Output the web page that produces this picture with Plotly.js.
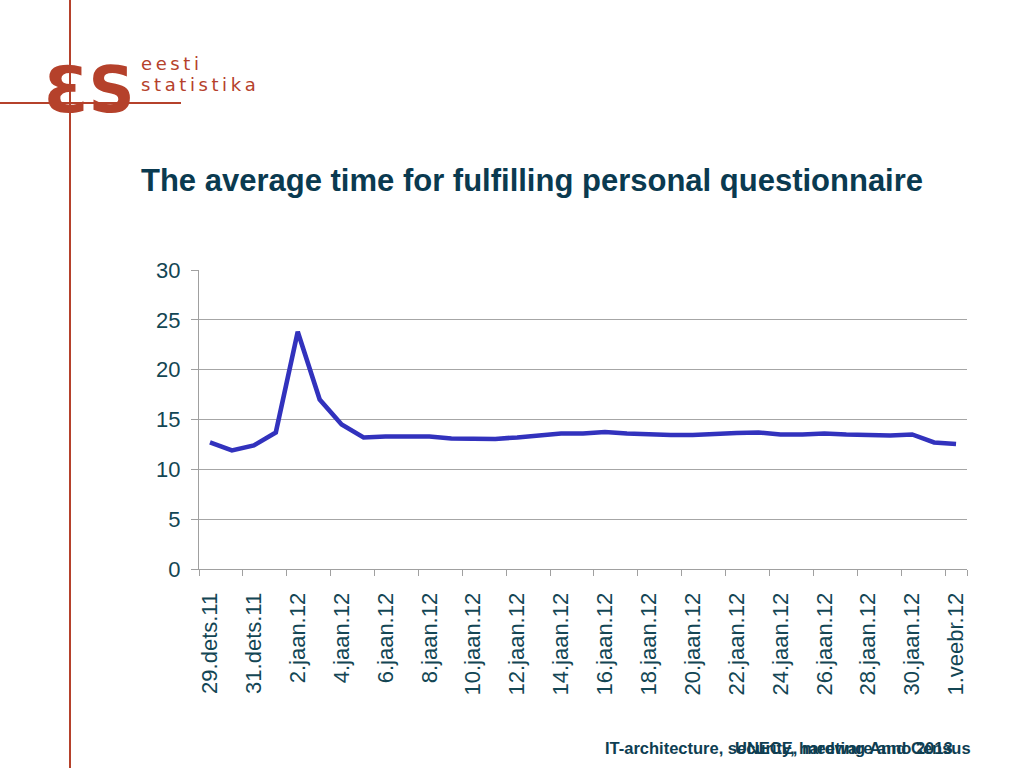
<!DOCTYPE html>
<html>
<head>
<meta charset="utf-8">
<script src="https://cdn.plot.ly/plotly-3.0.1.min.js"></script>
<style>html,body{margin:0;padding:0;background:#fff;}#chart{width:1024px;height:768px;}</style>
</head>
<body>
<div id="chart"></div>
<script>
// Data
const dateLabels = ["29.dets.11","30.dets.11","31.dets.11","1.jaan.12","2.jaan.12","3.jaan.12","4.jaan.12","5.jaan.12","6.jaan.12","7.jaan.12","8.jaan.12","9.jaan.12","10.jaan.12","11.jaan.12","12.jaan.12","13.jaan.12","14.jaan.12","15.jaan.12","16.jaan.12","17.jaan.12","18.jaan.12","19.jaan.12","20.jaan.12","21.jaan.12","22.jaan.12","23.jaan.12","24.jaan.12","25.jaan.12","26.jaan.12","27.jaan.12","28.jaan.12","29.jaan.12","30.jaan.12","31.jaan.12","1.veebr.12"];
const avgMinutes = [12.7,11.9,12.4,13.7,23.8,17.0,14.5,13.2,13.3,13.35,13.3,13.1,13.05,13.05,13.2,13.35,13.6,13.6,13.75,13.6,13.5,13.45,13.45,13.6,13.65,13.7,13.5,13.5,13.6,13.5,13.45,13.4,13.5,12.7,12.55];
const yTicks = [0,5,10,15,20,25,30];
const titleText = "The average time for fulfilling personal questionnaire";
const footerA = "IT-architecture, security, hardware and Census";
const footerB = "UNECE, meeting Anno 2013";
const logoMark = "ƐS";
const logoLine1 = "eesti";
const logoLine2 = "statistika";

const idx = dateLabels.map((_, i) => i);
const labelIdx = idx.filter(i => i % 2 === 0);
const boundaryIdx = idx.filter(i => i % 2 === 0).map(i => i - 0.5).concat([dateLabels.length - 0.5]);
const spaced = s => s.split("").join("\u2009");

const W = 1024, H = 768;
const L = 199, R = 967, T = 270, B = 569;
const red = "#b5412b";
const teal = "#0e3e52";
const px = x => (x - L) / (R - L);
const py = y => (B - y) / (B - T);

const trace = {
  x: idx, y: avgMinutes, type: "scatter", mode: "lines",
  line: {color: "#3232bd", width: 4.6},
  hoverinfo: "skip"
};
const tickTrace = {
  x: [boundaryIdx[0]], y: [null], xaxis: "x2", yaxis: "y", type: "scatter", mode: "none", showlegend: false, hoverinfo: "skip"
};

const layout = {
  width: W, height: H,
  margin: {l: L, r: W - R, t: T, b: H - B, pad: 0},
  paper_bgcolor: "#fff", plot_bgcolor: "#fff",
  showlegend: false,
  font: {family: "Liberation Sans, Arial, sans-serif", color: teal},
  title: {
    text: "<b>" + titleText + "</b>",
    font: {size: 31, color: "#0a3a50", family: "Liberation Sans, Arial, sans-serif"},
    xref: "container", yref: "container",
    x: 141 / W, xanchor: "left",
    y: 1 - 180 / H, yanchor: "middle"
  },
  xaxis: {
    range: [-0.5, dateLabels.length - 0.5],
    tickmode: "array",
    tickvals: labelIdx,
    ticktext: labelIdx.map(i => dateLabels[i]),
    tickangle: -90,
    ticks: "", showgrid: false, zeroline: false,
    showline: true, linecolor: "#a0a0a0", linewidth: 1,
    tickfont: {size: 22, color: "#134654", family: "Liberation Sans, Arial, sans-serif"},
    ticklabelstandoff: 14,
    fixedrange: true
  },
  xaxis2: {
    overlaying: "x", anchor: "y", side: "bottom",
    range: [-0.5, dateLabels.length - 0.5],
    tickmode: "array", tickvals: boundaryIdx,
    ticks: "outside", ticklen: 6, tickcolor: "#a0a0a0", tickwidth: 1,
    showticklabels: false, showgrid: false, zeroline: false, showline: false,
    fixedrange: true
  },
  yaxis: {
    range: [0, 30], tickmode: "array", tickvals: yTicks,
    ticks: "outside", ticklen: 7, tickcolor: "#a0a0a0",
    showgrid: true, gridcolor: "#a6a6a6", gridwidth: 1,
    zeroline: false, showline: true, linecolor: "#a0a0a0", linewidth: 1,
    tickfont: {size: 22, color: "#134654", family: "Liberation Sans, Arial, sans-serif"},
    ticklabelstandoff: 6,
    fixedrange: true
  },
  shapes: [
    {type: "line", xref: "paper", yref: "paper", x0: px(70), x1: px(70), y0: py(0), y1: py(768), line: {color: red, width: 2}},
    {type: "line", xref: "paper", yref: "paper", x0: px(0), x1: px(181), y0: py(103), y1: py(103), line: {color: red, width: 2}}
  ],
  annotations: [
    {xref: "paper", yref: "paper", x: px(89), y: py(90), xanchor: "center", yanchor: "middle",
     text: "<b>" + logoMark + "</b>", showarrow: false, font: {size: 64, color: red, family: "DejaVu Sans, sans-serif"}},
    {xref: "paper", yref: "paper", x: px(139), y: py(63), xanchor: "left", yanchor: "middle",
     text: spaced(logoLine1), showarrow: false, font: {size: 18, color: red, family: "DejaVu Sans, sans-serif"}},
    {xref: "paper", yref: "paper", x: px(139), y: py(84), xanchor: "left", yanchor: "middle",
     text: spaced(logoLine2), showarrow: false, font: {size: 18, color: red, family: "DejaVu Sans, sans-serif"}},
    {xref: "paper", yref: "paper", x: px(603), y: py(748), xanchor: "left", yanchor: "middle",
     text: "<b>" + footerA + "</b>", showarrow: false, font: {size: 16.5, color: teal}},
    {xref: "paper", yref: "paper", x: px(733), y: py(748), xanchor: "left", yanchor: "middle",
     text: "<b>" + footerB + "</b>", showarrow: false, font: {size: 16.5, color: teal}}
  ]
};

Plotly.newPlot("chart", [trace, tickTrace], layout, {displayModeBar: false, staticPlot: true});
</script>
</body>
</html>
